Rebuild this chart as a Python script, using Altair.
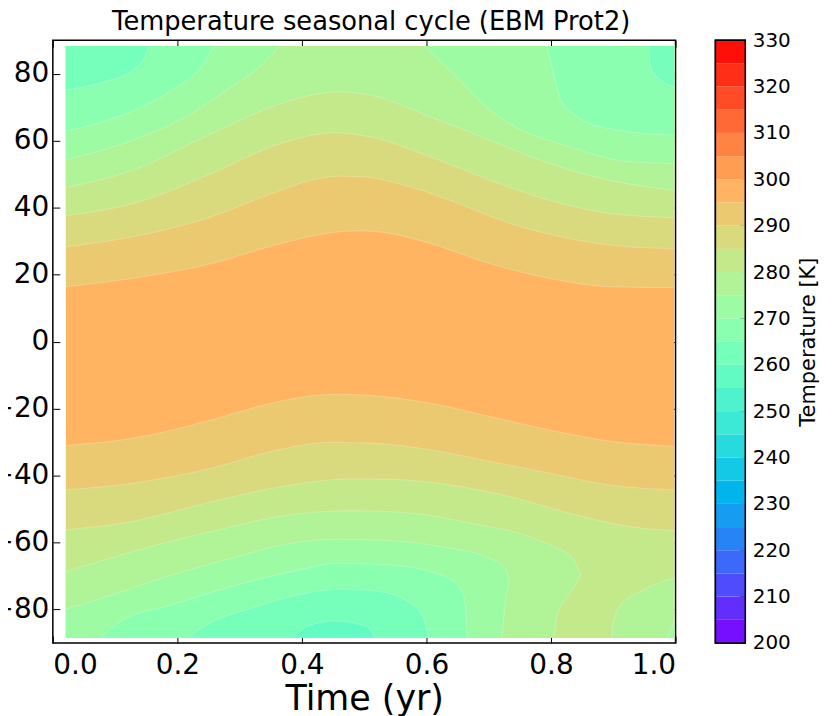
import math
import pandas as pd
import altair as alt

# ---------------- text ----------------
TITLE = "Temperature seasonal cycle (EBM Prot2)"
X_TITLE = "Time (yr)"
CBAR_TITLE = "Temperature [K]"

# ---------------- ticks / levels ----------------
X_TICKS = [0.0, 0.2, 0.4, 0.6, 0.8, 1.0]
Y_TICKS = [-80, -60, -40, -20, 0, 20, 40, 60, 80]
CBAR_TICKS = [200, 210, 220, 230, 240, 250, 260, 270, 280, 290, 300, 310, 320, 330]
LEVELS = [200, 205, 210, 215, 220, 225, 230, 235, 240, 245, 250, 255, 260,
          265, 270, 275, 280, 285, 290, 295, 300, 305, 310, 315, 320, 325, 330]

# extent of the model grid (time in yr, latitude in deg)
T_EXTENT = [0.021, 0.998]
LAT_EXTENT = [-88.4, 88.2]
TROPICAL_BAND = 295  # band 295-300 K fills the tropics

# ---------------- contour lines: (time, latitude) ----------------
# Northern hemisphere: poleward of each line is colder than its level
N295 = [(0.021, 16.4), (0.128, 18.9), (0.255, 23.3), (0.357, 28.8), (0.446, 32.5), (0.491, 33.1),
        (0.542, 32.3), (0.606, 29.3), (0.702, 23.3), (0.797, 18.9), (0.893, 16.4), (0.998, 16.1)]
N290 = [(0.021, 28.3), (0.128, 31.3), (0.255, 37.3), (0.351, 44.2), (0.415, 48.2), (0.459, 49.4),
        (0.497, 49.2), (0.574, 46.2), (0.638, 42.2), (0.734, 35.3), (0.829, 30.8), (0.925, 28.3), (0.998, 27.8)]
N285 = [(0.021, 37.6), (0.128, 41.2), (0.255, 50.2), (0.351, 58.2), (0.415, 61.6), (0.453, 62.4),
        (0.510, 61.1), (0.606, 55.2), (0.702, 48.2), (0.797, 42.2), (0.893, 38.3), (0.998, 37.0)]
N280 = [(0.021, 46.0), (0.128, 51.2), (0.255, 62.1), (0.351, 70.1), (0.415, 73.6), (0.459, 74.6),
        (0.510, 73.6), (0.606, 67.1), (0.702, 60.1), (0.797, 53.2), (0.893, 48.2), (0.998, 45.2)]
N275_A = [(0.021, 54.2), (0.128, 60.1), (0.223, 68.1), (0.287, 76.1), (0.338, 83.0), (0.364, 88.2)]
N275_B = [(0.596, 88.2), (0.638, 81.0), (0.702, 69.1), (0.733, 65.1), (0.829, 58.2), (0.925, 53.7), (0.998, 53.2)]
N270_A = [(0.021, 62.9), (0.096, 66.6), (0.191, 75.1), (0.242, 83.0), (0.258, 88.2)]
N270_B = [(0.794, 88.2), (0.804, 80.0), (0.816, 72.1), (0.835, 68.1), (0.893, 63.6), (0.998, 61.6)]
N265_A = [(0.021, 75.1), (0.083, 77.6), (0.128, 81.0), (0.150, 86.0), (0.154, 88.2)]
N265_B = [(0.957, 88.2), (0.960, 82.0), (0.976, 78.1), (0.998, 76.1)]

# Southern hemisphere: poleward of each line is colder than its level
S295 = [(0.021, -31.0), (0.128, -28.9), (0.255, -23.4), (0.351, -18.4), (0.415, -16.2), (0.459, -15.7),
        (0.510, -16.1), (0.606, -18.4), (0.702, -22.4), (0.797, -26.4), (0.893, -29.7), (0.998, -31.3)]
S290 = [(0.021, -44.3), (0.128, -42.3), (0.255, -37.8), (0.351, -32.8), (0.446, -30.1), (0.510, -30.3),
        (0.606, -32.3), (0.702, -35.8), (0.797, -39.3), (0.893, -42.8), (0.998, -44.3)]
S285 = [(0.021, -56.2), (0.128, -53.7), (0.255, -47.8), (0.383, -42.8), (0.478, -41.0), (0.542, -41.1),
        (0.638, -42.8), (0.734, -46.3), (0.829, -51.2), (0.925, -55.2), (0.998, -56.5)]
S280_A = [(0.021, -68.7), (0.128, -62.7), (0.255, -56.7), (0.383, -51.7), (0.478, -50.5), (0.574, -51.2),
          (0.670, -54.2), (0.765, -58.2), (0.810, -61.7), (0.835, -64.7), (0.848, -69.7)]
S280_A_RETURN = [(0.805, -88.4), (0.810, -81.6), (0.829, -75.6), (0.848, -69.7)]  # warmer below
S280_B = [(0.898, -88.4), (0.899, -84.6), (0.912, -78.6), (0.944, -74.6), (0.998, -70.6)]
S275_A = [(0.021, -79.9), (0.096, -75.6), (0.191, -69.7), (0.287, -64.7), (0.383, -60.2), (0.459, -59.0),
          (0.542, -59.4), (0.638, -61.7), (0.702, -64.7), (0.727, -67.7), (0.733, -71.6)]
S275_A_RETURN = [(0.721, -88.4), (0.727, -77.6), (0.733, -71.6)]  # warmer below
S275_B = [(0.987, -88.4), (0.998, -83.6)]
S270 = [(0.077, -88.4), (0.108, -83.6), (0.191, -78.6), (0.287, -73.1), (0.383, -68.7), (0.459, -66.2),
        (0.542, -66.7), (0.606, -68.7), (0.644, -71.6), (0.657, -74.6), (0.663, -79.6), (0.665, -88.4)]
S265 = [(0.217, -88.4), (0.242, -85.1), (0.319, -79.6), (0.395, -75.6), (0.459, -73.9), (0.523, -74.6),
        (0.574, -78.1), (0.593, -81.6), (0.603, -88.4)]
S260 = [(0.389, -88.4), (0.408, -85.1), (0.453, -83.4), (0.504, -85.1), (0.517, -88.4)]

# painting order (name, line, band filled between the line and the pole edge, hemisphere)
PIECES = [
    ("n295", N295, 290, "north"), ("n290", N290, 285, "north"), ("n285", N285, 280, "north"),
    ("n280", N280, 275, "north"), ("n275a", N275_A, 270, "north"), ("n275b", N275_B, 270, "north"),
    ("n270a", N270_A, 265, "north"), ("n270b", N270_B, 265, "north"),
    ("n265a", N265_A, 260, "north"), ("n265b", N265_B, 260, "north"),
    ("s295", S295, 290, "south"), ("s290", S290, 285, "south"), ("s285", S285, 280, "south"),
    ("s280a", S280_A, 275, "south"), ("s280r", S280_A_RETURN, 280, "south"),
    ("s280b", S280_B, 275, "south"),
    ("s275a", S275_A, 270, "south"), ("s275r", S275_A_RETURN, 275, "south"),
    ("s275b", S275_B, 270, "south"),
    ("s270", S270, 265, "south"), ("s265", S265, 260, "south"), ("s260", S260, 255, "south"),
]


# ---------------- colours: matplotlib "rainbow" sampled at band centres ----------------
def rainbow(x):
    r = abs(2 * x - 0.5)
    g = math.sin(math.pi * x)
    b = math.cos(math.pi * x / 2)
    return "#%02x%02x%02x" % tuple(int(round(255 * max(0.0, min(1.0, c)))) for c in (r, g, b))


BAND_LO = LEVELS[:-1]
BAND_COLORS = [rainbow((lo + 2.5 - LEVELS[0]) / (LEVELS[-1] - LEVELS[0])) for lo in BAND_LO]
BAND_NAMES = ["b%d" % lo for lo in BAND_LO]

# ---------------- tables ----------------
piece_frames = []
for name, curve, band, side in PIECES:
    edge = LAT_EXTENT[1] if side == "north" else LAT_EXTENT[0]
    piece_frames.append(pd.DataFrame({
        "piece": name,
        "band": "b%d" % band,
        "t": [p[0] for p in curve],
        "lat": [p[1] for p in curve],
        "edge": edge,
    }))
regions = pd.concat(piece_frames, ignore_index=True)

grid = pd.DataFrame({"t0": [T_EXTENT[0]], "t1": [T_EXTENT[1]],
                     "lat0": [LAT_EXTENT[0]], "lat1": [LAT_EXTENT[1]],
                     "band": ["b%d" % TROPICAL_BAND]})

cbar_df = pd.DataFrame({"lo": LEVELS[:-1], "hi": LEVELS[1:], "band": BAND_NAMES})

FONT = "DejaVu Sans"
xs = alt.Scale(domain=[0, 1], nice=False, zero=False)
ys = alt.Scale(domain=[-90, 90], nice=False, zero=False)
cs = alt.Scale(domain=BAND_NAMES, range=BAND_COLORS)
TICK = 7

base_layer = alt.Chart(grid).mark_rect().encode(
    x=alt.X("t0:Q", scale=xs, axis=alt.Axis(
        orient="bottom", values=X_TICKS, format=".1f", title=X_TITLE, offset=-TICK, tickSize=TICK,
        labelPadding=9, labelFontSize=28, titleFontSize=35, titlePadding=2)),
    x2="t1:Q",
    y=alt.Y("lat0:Q", scale=ys, axis=alt.Axis(
        orient="left", values=Y_TICKS, format="d", title=None, offset=-TICK, tickSize=TICK,
        labelPadding=4, labelFontSize=28)),
    y2="lat1:Q",
    color=alt.Color("band:N", scale=cs, legend=None),
)

area_layers = [
    alt.Chart(df).mark_area(interpolate="monotone").encode(
        x=alt.X("t:Q", scale=xs, axis=None),
        y=alt.Y("lat:Q", scale=ys, axis=None),
        y2="edge:Q",
        color=alt.Color("band:N", scale=cs, legend=None),
    )
    for df in piece_frames
]

lines = alt.Chart(regions).mark_line(
    interpolate="monotone", color="white", strokeWidth=0.8, opacity=0.3
).encode(
    x=alt.X("t:Q", scale=xs, axis=None),
    y=alt.Y("lat:Q", scale=ys, axis=None),
    detail="piece:N",
)

frame_axes = alt.Chart(grid).mark_rect(opacity=0).encode(
    x=alt.X("t0:Q", scale=xs, axis=alt.Axis(
        orient="top", values=X_TICKS, labels=False, title=None, offset=-TICK, tickSize=TICK)),
    x2="t1:Q",
    y=alt.Y("lat0:Q", scale=ys, axis=alt.Axis(
        orient="right", values=Y_TICKS, labels=False, title=None, offset=-TICK, tickSize=TICK)),
    y2="lat1:Q",
)

main = alt.layer(base_layer, *area_layers, lines, frame_axes).resolve_axis(
    x="independent", y="independent"
).properties(
    width=625, height=605,
    title=alt.TitleParams(TITLE, fontSize=25.8, font=FONT, fontWeight="normal", color="black",
                          anchor="middle", frame="group", baseline="alphabetic", offset=-16, dx=7),
)

cscale = alt.Scale(domain=[LEVELS[0], LEVELS[-1]], nice=False, zero=False)
cbar_bands = alt.Chart(cbar_df).mark_rect().encode(
    y=alt.Y("lo:Q", scale=cscale, axis=alt.Axis(
        orient="right", values=CBAR_TICKS, format="d", title=CBAR_TITLE, offset=-6, tickSize=6,
        labelPadding=7, labelFontSize=20, titleFontSize=21, titleAngle=270,
        titleX=69, titleY=302.5, titleAlign="center", titleBaseline="middle")),
    y2="hi:Q",
    color=alt.Color("band:N", scale=cs, legend=None),
)
cbar_outline = alt.Chart(cbar_df).mark_rect(filled=False, stroke="black", strokeWidth=1.5).encode(
    y=alt.Y("min(lo):Q", scale=cscale, axis=None),
    y2="max(hi):Q",
)
cbar = alt.layer(cbar_bands, cbar_outline).resolve_axis(y="independent").properties(width=30, height=605)

chart = alt.hconcat(main, cbar, spacing=36).properties(
    padding={"left": -19, "top": -2, "right": 5, "bottom": 5}
).configure_view(
    stroke="black", strokeWidth=1.5
).configure_axis(
    labelFont=FONT, titleFont=FONT, labelColor="black", titleColor="black",
    tickColor="black", tickWidth=1, domain=False, grid=False, titleFontWeight="normal",
)

chart.save("out.html", embed_options={"renderer": "svg", "actions": False})
